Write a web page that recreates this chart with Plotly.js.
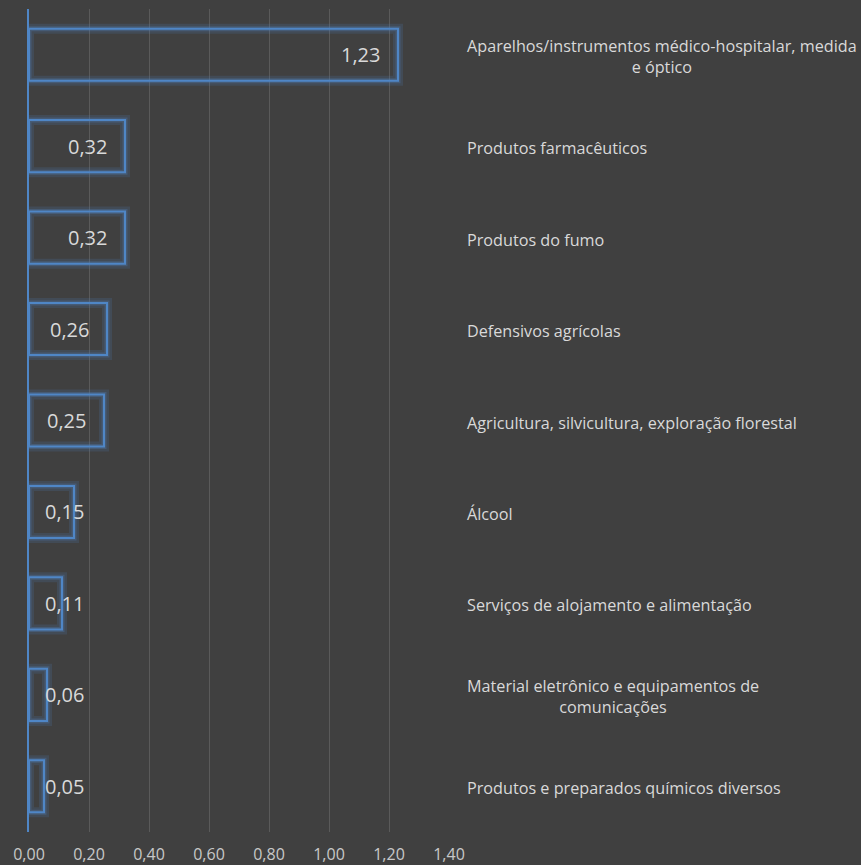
<!DOCTYPE html>
<html>
<head>
<meta charset="utf-8">
<script src="https://cdn.plot.ly/plotly-3.0.1.min.js"></script>
<style>html,body{margin:0;padding:0;background:#404040;}</style>
</head>
<body>
<div id="chart" style="width:861px;height:865px;"></div>
<script>
const categories = [
  "Aparelhos/instrumentos médico-hospitalar, medida<br>e óptico",
  "Produtos farmacêuticos",
  "Produtos do fumo",
  "Defensivos agrícolas",
  "Agricultura, silvicultura, exploração florestal",
  "Álcool",
  "Serviços de alojamento e alimentação",
  "Material eletrônico e equipamentos de<br>comunicações",
  "Produtos e preparados químicos diversos"
];
const values = [1.23, 0.32, 0.32, 0.26, 0.25, 0.15, 0.11, 0.06, 0.05];
const tickValues = [0, 0.2, 0.4, 0.6, 0.8, 1.0, 1.2, 1.4];

const ids = categories.map((c, i) => "c" + i);
const fmt = v => v.toFixed(2).replace(".", ",");

const glow = {
  type: "bar", orientation: "h", x: values, y: ids,
  marker: {color: "rgba(0,0,0,0)", line: {color: "rgba(79,129,189,0.18)", width: 10}},
  hoverinfo: "skip", showlegend: false
};
const glow2 = {
  type: "bar", orientation: "h", x: values, y: ids,
  marker: {color: "rgba(0,0,0,0)", line: {color: "rgba(79,129,189,0.3)", width: 5}},
  hoverinfo: "skip", showlegend: false
};
const bars = {
  type: "bar", orientation: "h", x: values, y: ids,
  marker: {color: "rgba(0,0,0,0)", line: {color: "#4f86c6", width: 2}},
  showlegend: false
};

const annotations = [];
values.forEach((v, i) => {
  const small = v < 0.2;
  annotations.push({
    x: small ? 0.053 : v, y: ids[i], xref: "x", yref: "y",
    text: fmt(v), showarrow: false,
    xanchor: small ? "left" : "right",
    xshift: small ? -2 : -16,
    font: {family: "Open Sans", size: 20, color: "#d9d9d9"}
  });
  annotations.push({
    x: 1.038, y: ids[i], xref: "paper", yref: "y",
    text: categories[i], showarrow: false,
    xanchor: "left", align: "center", yshift: -2,
    font: {family: "Open Sans", size: 16.2, color: "#d9d9d9"}
  });
});

const layout = {
  width: 861, height: 865,
  paper_bgcolor: "#404040", plot_bgcolor: "#404040",
  margin: {l: 29, r: 412, t: 9, b: 33},
  barmode: "overlay", bargap: 0.43,
  separators: ",.",
  xaxis: {
    range: [0, 1.4], tickvals: tickValues, tickformat: ".2f",
    showgrid: true, gridcolor: "#5a5a5a", gridwidth: 1,
    zeroline: false, showline: false, ticks: "",
    ticklabelstandoff: 11,
    tickfont: {family: "Open Sans", size: 16, color: "#c8c8c8"},
    fixedrange: true
  },
  yaxis: {
    type: "category", autorange: "reversed",
    showticklabels: false, showgrid: false, zeroline: false,
    showline: true, linecolor: "#4f86c6", linewidth: 2, ticks: "",
    fixedrange: true
  },
  annotations: annotations
};

Plotly.newPlot("chart", [glow, glow2, bars], layout, {displayModeBar: false, staticPlot: true});
</script>
</body>
</html>
